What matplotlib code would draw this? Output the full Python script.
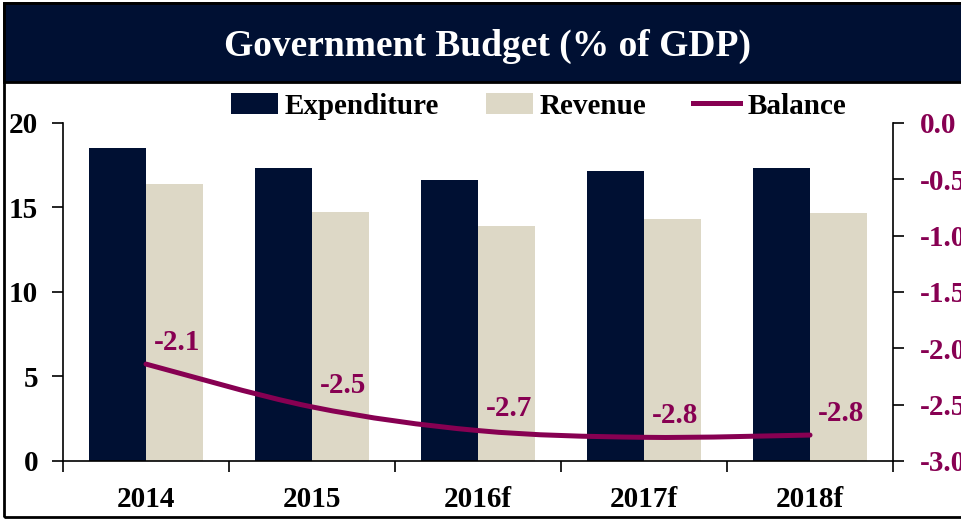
import matplotlib
matplotlib.use("Agg")
import matplotlib.pyplot as plt
from matplotlib.path import Path
from matplotlib.patches import PathPatch, Rectangle
from matplotlib.lines import Line2D
from matplotlib.patches import Patch

years = ["2014", "2015", "2016f", "2017f", "2018f"]
expenditure = [18.5, 17.35, 16.65, 17.15, 17.35]
revenue = [16.4, 14.75, 13.9, 14.3, 14.7]
balance = [-2.14, -2.52, -2.73, -2.79, -2.77]

NAVY = "#001033"
BEIGE = "#DDD8C6"
PLUM = "#870052"
FONT = "Liberation Serif"
FS = 21

plt.rcParams["font.family"] = [FONT, "DejaVu Serif"]
plt.rcParams["font.weight"] = "bold"

fig = plt.figure(figsize=(9.62, 5.20), dpi=100)

# frame and title banner
fig.patches.append(Rectangle((0.004, 0.005), 1.2, 0.99, transform=fig.transFigure,
                             fill=False, edgecolor="black", linewidth=2.0))
fig.patches.append(Rectangle((0.004, 0.842), 1.2, 0.152, transform=fig.transFigure,
                             facecolor=NAVY, edgecolor="black", linewidth=2.0))
fig.text(0.5065, 0.910, "Government Budget (% of GDP)", color="white", fontsize=27,
         fontweight="bold", ha="center", va="center")

ax = fig.add_axes([0.0655, 0.1135, 0.8628, 0.65])
x = list(range(len(years)))
w = 0.345
ax.bar([i - w / 2 for i in x], expenditure, width=w, color=NAVY, zorder=2)
ax.bar([i + w / 2 for i in x], revenue, width=w, color=BEIGE, zorder=2)
ax.set_xlim(-0.5, len(years) - 0.5)
ax.set_ylim(0, 20)
ax.set_yticks([0, 5, 10, 15, 20])
ax.set_xticks([i - 0.5 for i in range(len(years) + 1)])
ax.set_xticklabels([])
ax.set_xticks(x, minor=True)
ax.set_xticklabels(years, minor=True)
ax.tick_params(axis="x", which="major", direction="out", length=8, width=1.2)
ax.tick_params(axis="x", which="minor", length=0, pad=18, labelsize=FS)
ax.tick_params(axis="y", direction="out", length=8, width=1.2, labelsize=FS, pad=10)
ax.spines["top"].set_visible(False)
ax.spines["right"].set_visible(False)
for s in ("left", "bottom"):
    ax.spines[s].set_linewidth(1.2)
for lab in ax.get_xticklabels(minor=True) + ax.get_yticklabels():
    lab.set_fontweight("bold")

ax2 = ax.twinx()
ax2.set_ylim(-3.0, 0.0)
rticks = [-3.0, -2.5, -2.0, -1.5, -1.0, -0.5, 0.0]
ax2.set_yticks(rticks)
ax2.set_yticklabels([f"{v:.1f}" for v in rticks])
ax2.tick_params(axis="y", direction="out", length=8, width=1.2, labelsize=FS,
                pad=11, labelcolor=PLUM)
for lab in ax2.get_yticklabels():
    lab.set_fontweight("bold")
ax2.spines["top"].set_visible(False)
ax2.spines["left"].set_visible(False)
ax2.spines["bottom"].set_visible(False)
ax2.spines["right"].set_linewidth(1.2)

# smoothed balance line (Catmull-Rom as cubic Bezier)
pts = list(zip(x, balance))
verts = [pts[0]]
codes = [Path.MOVETO]
n = len(pts)
for i in range(n - 1):
    p0 = pts[i - 1] if i > 0 else pts[i]
    p1 = pts[i]
    p2 = pts[i + 1]
    p3 = pts[i + 2] if i + 2 < n else pts[i + 1]
    c1 = (p1[0] + (p2[0] - p0[0]) / 6, p1[1] + (p2[1] - p0[1]) / 6)
    c2 = (p2[0] - (p3[0] - p1[0]) / 6, p2[1] - (p3[1] - p1[1]) / 6)
    verts += [c1, c2, p2]
    codes += [Path.CURVE4] * 3
ax2.add_patch(PathPatch(Path(verts, codes), facecolor="none", edgecolor=PLUM,
                        linewidth=3.6, capstyle="round", zorder=3))

for xi, b in zip(x, balance):
    ax2.annotate(f"{b:.1f}", (xi, b), xytext=(5.5, 6), textcoords="offset points",
                 ha="left", va="bottom", color=PLUM, fontsize=FS, fontweight="bold")

handles = [Patch(facecolor=NAVY), Patch(facecolor=BEIGE),
           Line2D([0], [0], color=PLUM, linewidth=3.6)]
fig.legend(handles, ["Expenditure", "Revenue", "Balance"], loc="center left",
           bbox_to_anchor=(0.240, 0.796), ncol=3, frameon=False,
           handlelength=1.6, handleheight=0.7, handletextpad=0.25, columnspacing=1.6,
           borderpad=0, borderaxespad=0,
           prop={"weight": "bold", "size": FS})

fig.savefig("out.png", dpi=100)
